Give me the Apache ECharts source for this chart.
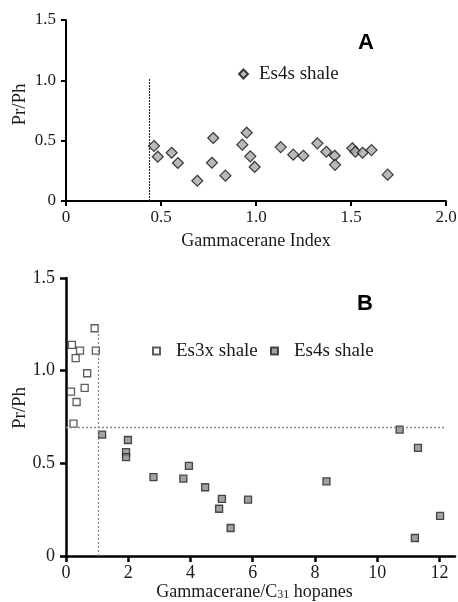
<!DOCTYPE html>
<html>
<head>
<meta charset="utf-8">
<script src="https://cdn.jsdelivr.net/npm/echarts@6/dist/echarts.min.js"></script>
<style>
html,body{margin:0;padding:0;background:#fff;}
#a{position:absolute;left:0;top:0;width:458px;height:260px;}
#b{position:absolute;left:0;top:260px;width:458px;height:342px;}
</style>
</head>
<body>
<div id="a"></div>
<div id="b"></div>
<script>
// ---- Data: panel A (Gammacerane Index vs Pr/Ph, Es4s shale) ----
const aX = [0.463,0.483,0.556,0.589,0.691,0.768,0.775,0.839,0.928,0.951,0.970,0.993,1.130,1.196,1.249,1.323,1.370,1.414,1.416,1.507,1.523,1.561,1.608,1.693];
const aY = [0.456,0.367,0.400,0.315,0.168,0.317,0.522,0.210,0.467,0.566,0.370,0.282,0.447,0.384,0.375,0.478,0.408,0.375,0.300,0.437,0.408,0.400,0.422,0.218];
const aCutX = 0.44, aCutTop = 1.02;
const aXTicks = [0,0.5,1.0,1.5,2.0];
const aYTicks = [0,0.5,1.0,1.5];

// ---- Data: panel B (Gammacerane/C31 hopanes vs Pr/Ph) ----
const b3xX = [0.92,0.19,0.45,0.96,0.31,0.68,0.60,0.16,0.34,0.24];
const b3xY = [1.229,1.139,1.108,1.108,1.068,0.986,0.907,0.887,0.831,0.714];
const b4sX = [1.16,1.99,1.93,1.93,2.81,3.77,3.95,4.47,5.01,4.92,5.29,5.85,8.37,10.72,11.31,11.21,12.02];
const b4sY = [0.655,0.626,0.560,0.534,0.426,0.417,0.486,0.371,0.308,0.255,0.151,0.304,0.403,0.682,0.583,0.097,0.216];
const bHLineY = 0.692, bHLineEnd = 12.15;
const bVLineX = 1.03, bVLineTop = 1.241;
const bXTicks = [0,2,4,6,8,10,12];
const bYTicks = [0,0.5,1.0,1.5];

const serif = 'Liberation Serif';
const fmt1 = v => v === 0 ? '0' : v.toFixed(1);
const pairs = (xs, ys) => xs.map((x, i) => [x, ys[i]]);

function axisCommon(extra) {
  return Object.assign({
    type: 'value',
    nameMoveOverlap: false,
    splitLine: { show: false },
    axisLine: { show: true, onZero: false, lineStyle: { color: '#000', width: 2 } },
    axisTick: { show: true, length: 5, lineStyle: { color: '#000', width: 2 } },
    axisLabel: { color: '#1a1a1a', fontFamily: serif, fontSize: 17 },
    nameTextStyle: { color: '#1a1a1a', fontFamily: serif, fontSize: 18 }
  }, extra);
}

// ---------- Panel A ----------
const chartA = echarts.init(document.getElementById('a'), null, { renderer: 'canvas' });
chartA.setOption({
  animation: false,
  title: {
    text: 'A', left: 358, top: 32, padding: 0,
    textStyle: { fontFamily: 'Liberation Sans', fontWeight: 'bold', fontSize: 22, color: '#000' }
  },
  legend: {
    data: ['Es4s shale'], left: 238, top: 64, padding: 0,
    icon: 'diamond', itemWidth: 9, itemHeight: 9,
    textStyle: { fontFamily: serif, fontSize: 19, color: '#1a1a1a', lineHeight: 20, padding: [0, 0, 0, 6] }
  },
  grid: { left: 66, top: 20, width: 380, height: 181, outerBoundsMode: 'none', containLabel: false },
  xAxis: axisCommon({
    min: 0, max: 2, interval: 0.5,
    name: 'Gammacerane Index', nameLocation: 'middle', nameGap: 31,
    axisLabel: { color: '#1a1a1a', fontFamily: serif, fontSize: 17, margin: 8, formatter: fmt1, customValues: aXTicks },
    axisTick: { show: true, length: 5, customValues: aXTicks, lineStyle: { color: '#000', width: 2 } }
  }),
  yAxis: axisCommon({
    min: 0, max: 1.5, interval: 0.5,
    name: 'Pr/Ph', nameLocation: 'middle', nameGap: 36, nameRotate: 90,
    nameTextStyle: { color: '#1a1a1a', fontFamily: serif, fontSize: 19, padding: [0, 0, 0, 12] },
    axisLabel: { color: '#1a1a1a', fontFamily: serif, fontSize: 17, margin: 10, formatter: fmt1, customValues: aYTicks },
    axisTick: { show: true, length: 5, customValues: aYTicks, lineStyle: { color: '#000', width: 2 } }
  }),
  series: [{
    name: 'Es4s shale', type: 'scatter', symbol: 'diamond', symbolSize: 11,
    itemStyle: { color: '#a8a8a8', borderColor: '#111', borderWidth: 1.2 },
    data: pairs(aX, aY),
    markLine: {
      silent: true, symbol: 'none', label: { show: false },
      lineStyle: { color: '#333', width: 1.2, type: [2, 1] },
      data: [[{ coord: [aCutX, 0] }, { coord: [aCutX, aCutTop] }]]
    }
  }]
});

// ---------- Panel B ----------
const chartB = echarts.init(document.getElementById('b'), null, { renderer: 'canvas' });
const legendB = (name, left) => ({
  data: [name], left: left, top: 81, padding: 0,
  icon: 'rect', itemWidth: 7, itemHeight: 7,
  textStyle: { fontFamily: serif, fontSize: 19, color: '#1a1a1a', lineHeight: 20, padding: [0, 0, 0, 11] }
});
chartB.setOption({
  animation: false,
  title: {
    text: 'B', left: 357, top: 33, padding: 0,
    textStyle: { fontFamily: 'Liberation Sans', fontWeight: 'bold', fontSize: 22, color: '#000' }
  },
  legend: [legendB('Es3x shale', 152), legendB('Es4s shale', 270)],
  grid: { left: 66, top: 18, width: 389, height: 278, outerBoundsMode: 'none', containLabel: false },
  xAxis: axisCommon({
    min: 0, max: 12.5, interval: 2,
    name: '{n|Gammacerane/C}{s|31}{n| hopanes}', nameLocation: 'middle', nameGap: 27,
    nameTextStyle: {
      color: '#1a1a1a', fontFamily: serif, fontSize: 18, padding: [0, 12, 0, 0],
      rich: {
        n: { fontFamily: serif, fontSize: 18, color: '#1a1a1a' },
        s: { fontFamily: serif, fontSize: 12, color: '#1a1a1a', verticalAlign: 'bottom', padding: [6, 0, 0, 0] }
      }
    },
    axisLine: { show: true, onZero: false, lineStyle: { color: '#000', width: 2.5 } },
    axisLabel: { color: '#1a1a1a', fontFamily: serif, fontSize: 18, margin: 8, customValues: bXTicks },
    axisTick: { show: true, length: 6, customValues: bXTicks, lineStyle: { color: '#000', width: 2.5 } }
  }),
  yAxis: axisCommon({
    min: 0, max: 1.5, interval: 0.5,
    name: 'Pr/Ph', nameLocation: 'middle', nameGap: 36, nameRotate: 90,
    nameTextStyle: { color: '#1a1a1a', fontFamily: serif, fontSize: 19, padding: [0, 0, 0, 18] },
    axisLine: { show: true, onZero: false, lineStyle: { color: '#000', width: 2.5 } },
    axisLabel: { color: '#1a1a1a', fontFamily: serif, fontSize: 18, margin: 11, formatter: fmt1, customValues: bYTicks },
    axisTick: { show: true, length: 6, customValues: bYTicks, lineStyle: { color: '#000', width: 2.5 } }
  }),
  series: [{
    name: 'Es3x shale', type: 'scatter', symbol: 'rect', symbolSize: 7,
    itemStyle: { color: '#ffffff', borderColor: '#333', borderWidth: 1.3 },
    data: pairs(b3xX, b3xY),
    markLine: {
      silent: true, symbol: 'none', label: { show: false },
      lineStyle: { color: '#8a8a8a', width: 1.3, type: [2, 2] },
      data: [
        [{ coord: [0, bHLineY] }, { coord: [bHLineEnd, bHLineY] }],
        [{ coord: [bVLineX, 0] }, { coord: [bVLineX, bVLineTop] }]
      ]
    }
  }, {
    name: 'Es4s shale', type: 'scatter', symbol: 'rect', symbolSize: 7,
    itemStyle: { color: '#8a8a8a', borderColor: '#222', borderWidth: 1.3 },
    data: pairs(b4sX, b4sY)
  }]
});
</script>
</body>
</html>
